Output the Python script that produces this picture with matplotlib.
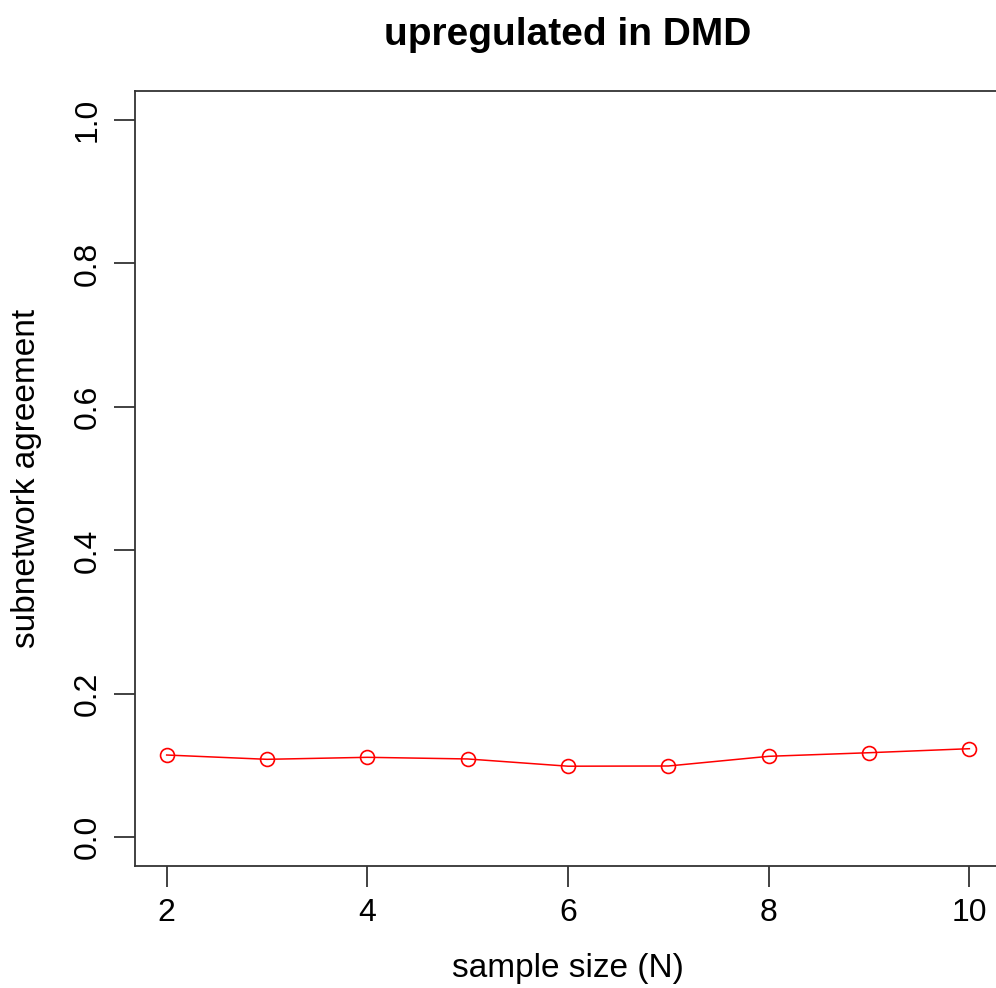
import matplotlib
matplotlib.use("Agg")
import matplotlib.pyplot as plt

plt.rcParams['font.family'] = ['Liberation Sans', 'DejaVu Sans']

# sample sizes and subnetwork agreement
sample_size = [2, 3, 4, 5, 6, 7, 8, 9, 10]
agreement = [0.1147, 0.1087, 0.1115, 0.1092, 0.0991, 0.0994, 0.1129, 0.1179, 0.1235]

x_ticks = [2, 4, 6, 8, 10]
y_ticks = [0.0, 0.2, 0.4, 0.6, 0.8, 1.0]

fig = plt.figure(figsize=(9.96, 9.88), dpi=100)
ax = fig.add_axes([0.1351, 0.1235, 0.8704, 0.7841])

ax.plot(sample_size, agreement, color='red', linewidth=1.1,
        marker='o', markersize=10, markerfacecolor='none',
        markeredgecolor='red', markeredgewidth=1.2)

ax.set_xlim(1.68, 10.32)
ax.set_ylim(-0.04, 1.04)
ax.set_xticks(x_ticks)
ax.set_xticklabels([str(t) for t in x_ticks])
ax.set_yticks(y_ticks)
ax.set_yticklabels([f"{t:.1f}" for t in y_ticks], rotation=90, va='center')

for s in ax.spines.values():
    s.set_linewidth(1.3)
    s.set_color('#333333')
ax.tick_params(length=15, width=1.3, color='#333333', labelsize=23, pad=8)

ax.set_xlabel('sample size (N)', fontsize=24, labelpad=18)
ax.set_ylabel('subnetwork agreement', fontsize=24, labelpad=22)
ax.set_title('upregulated in DMD', fontsize=28, fontweight='bold', pad=33)

fig.savefig('out.png', dpi=100)
